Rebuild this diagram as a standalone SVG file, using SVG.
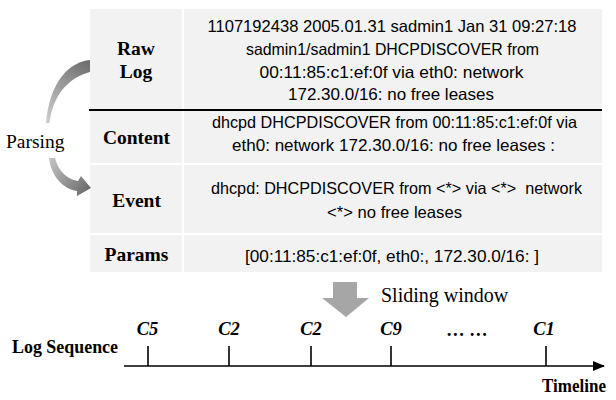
<svg xmlns="http://www.w3.org/2000/svg" width="616" height="400" viewBox="0 0 616 400">
<defs>
<linearGradient id="gTop" x1="47" y1="123" x2="90" y2="64" gradientUnits="userSpaceOnUse">
<stop offset="0" stop-color="#cfcfcf"/>
<stop offset="1" stop-color="#6e6e6e"/>
</linearGradient>
<linearGradient id="gBot" x1="50" y1="158" x2="90" y2="190" gradientUnits="userSpaceOnUse">
<stop offset="0" stop-color="#c4c4c4"/>
<stop offset="1" stop-color="#6a6a6a"/>
</linearGradient>
<marker id="tl" viewBox="0 0 12 10" refX="11" refY="5" markerWidth="12" markerHeight="10" markerUnits="userSpaceOnUse" orient="auto">
<path d="M0,0 L12,5 L0,10 Z" fill="#000"/>
</marker>
</defs>
<style>
.cell{fill:#f2f2f2}
.lab{font-family:"Liberation Serif","Times New Roman",serif;font-weight:bold;font-size:19.5px;fill:#000;text-anchor:middle}
.val{font-family:"Liberation Sans",Arial,sans-serif;font-size:16.5px;fill:#000;text-anchor:middle}
.ser{font-family:"Liberation Serif","Times New Roman",serif;fill:#000}
.c{font-family:"Liberation Serif","Times New Roman",serif;font-weight:bold;font-style:italic;font-size:18.5px;text-anchor:middle}
.tick{stroke:#000;stroke-width:1.6}
</style>
<rect width="616" height="400" fill="#fff"/>

<g id="row-rawlog">
<rect class="cell" x="90" y="9" width="92" height="100"/>
<rect class="cell" x="184" y="9" width="418" height="100"/>
<text class="lab" x="136" y="55">Raw</text>
<text class="lab" x="136" y="77.5">Log</text>
<text class="val" x="392" y="32.3" textLength="369" lengthAdjust="spacingAndGlyphs">1107192438 2005.01.31 sadmin1 Jan 31 09:27:18</text>
<text class="val" x="392.5" y="55" textLength="293" lengthAdjust="spacingAndGlyphs">sadmin1/sadmin1 DHCPDISCOVER from</text>
<text class="val" x="391.5" y="77.5" textLength="264" lengthAdjust="spacingAndGlyphs">00:11:85:c1:ef:0f via eth0: network</text>
<text class="val" x="391" y="100" textLength="206" lengthAdjust="spacingAndGlyphs">172.30.0/16: no free leases</text>
</g>

<g id="row-content">
<rect class="cell" x="90" y="111" width="92" height="52"/>
<rect class="cell" x="184" y="111" width="418" height="52"/>
<text class="lab" x="136.5" y="144">Content</text>
<text class="val" x="394.5" y="128" textLength="365" lengthAdjust="spacingAndGlyphs">dhcpd DHCPDISCOVER from 00:11:85:c1:ef:0f via</text>
<text class="val" x="393.5" y="151" textLength="323" lengthAdjust="spacingAndGlyphs">eth0: network 172.30.0/16: no free leases :</text>
</g>

<g id="row-event">
<rect class="cell" x="90" y="165" width="92" height="68"/>
<rect class="cell" x="184" y="165" width="418" height="68"/>
<text class="lab" x="136.5" y="207">Event</text>
<text class="val" x="396.5" y="194" textLength="371" lengthAdjust="spacingAndGlyphs" xml:space="preserve">dhcpd: DHCPDISCOVER from &lt;*&gt; via &lt;*&gt;  network</text>
<text class="val" x="394.5" y="217.5" textLength="135" lengthAdjust="spacingAndGlyphs">&lt;*&gt; no free leases</text>
</g>

<g id="row-params">
<rect class="cell" x="90" y="235" width="92" height="37"/>
<rect class="cell" x="184" y="235" width="418" height="37"/>
<text class="lab" x="136.5" y="261">Params</text>
<text class="val" x="392" y="261.5" textLength="294" lengthAdjust="spacingAndGlyphs">[00:11:85:c1:ef:0f, eth0:, 172.30.0/16: ]</text>
</g>

<g id="separator">
<line x1="89" y1="110" x2="602" y2="110" stroke="#000" stroke-width="2"/>
</g>

<g id="parsing-label">
<text class="ser" x="6" y="148" font-size="19.5">Parsing</text>
</g>

<g id="sliding-label">
<text class="ser" x="381" y="302" font-size="20">Sliding window</text>
</g>

<g id="timeline">
<text class="ser" x="12" y="353" font-size="18" font-weight="bold" textLength="106" lengthAdjust="spacingAndGlyphs">Log Sequence</text>
<text class="ser" x="542" y="392" font-size="18" font-weight="bold" textLength="64" lengthAdjust="spacingAndGlyphs">Timeline</text>
<text class="c" x="147.5" y="334.5">C5</text>
<text class="c" x="229" y="334.5">C2</text>
<text class="c" x="311" y="334.5">C2</text>
<text class="c" x="391" y="334.5">C9</text>
<text class="c" x="467.5" y="336" font-style="normal">… …</text>
<text class="c" x="544" y="334.5">C1</text>
<line class="tick" x1="148" y1="346" x2="148" y2="366"/>
<line class="tick" x1="229" y1="346" x2="229" y2="366"/>
<line class="tick" x1="311" y1="346" x2="311" y2="366"/>
<line class="tick" x1="391" y1="346" x2="391" y2="366"/>
<line class="tick" x1="546" y1="346" x2="546" y2="366"/>
</g>

<g id="connectors">
<path d="M90,60 C70,62 50,80 46,123 L49.5,123 C53,95 68,78 90,72 Z" fill="url(#gTop)"/>
<path d="M49,158 L55,158 C58,170 66,179 78,181 L81,176 L91,188 L77,196 L77,191 C63,189 51,176 49,158 Z" fill="url(#gBot)"/>
<path d="M333,282 L357,282 L357,298 L369,298 L346,317 L322,298 L333,298 Z" fill="#a6a6a6"/>
<line x1="124" y1="366" x2="604" y2="366" stroke="#000" stroke-width="1.6" marker-end="url(#tl)"/>
</g>
</svg>
